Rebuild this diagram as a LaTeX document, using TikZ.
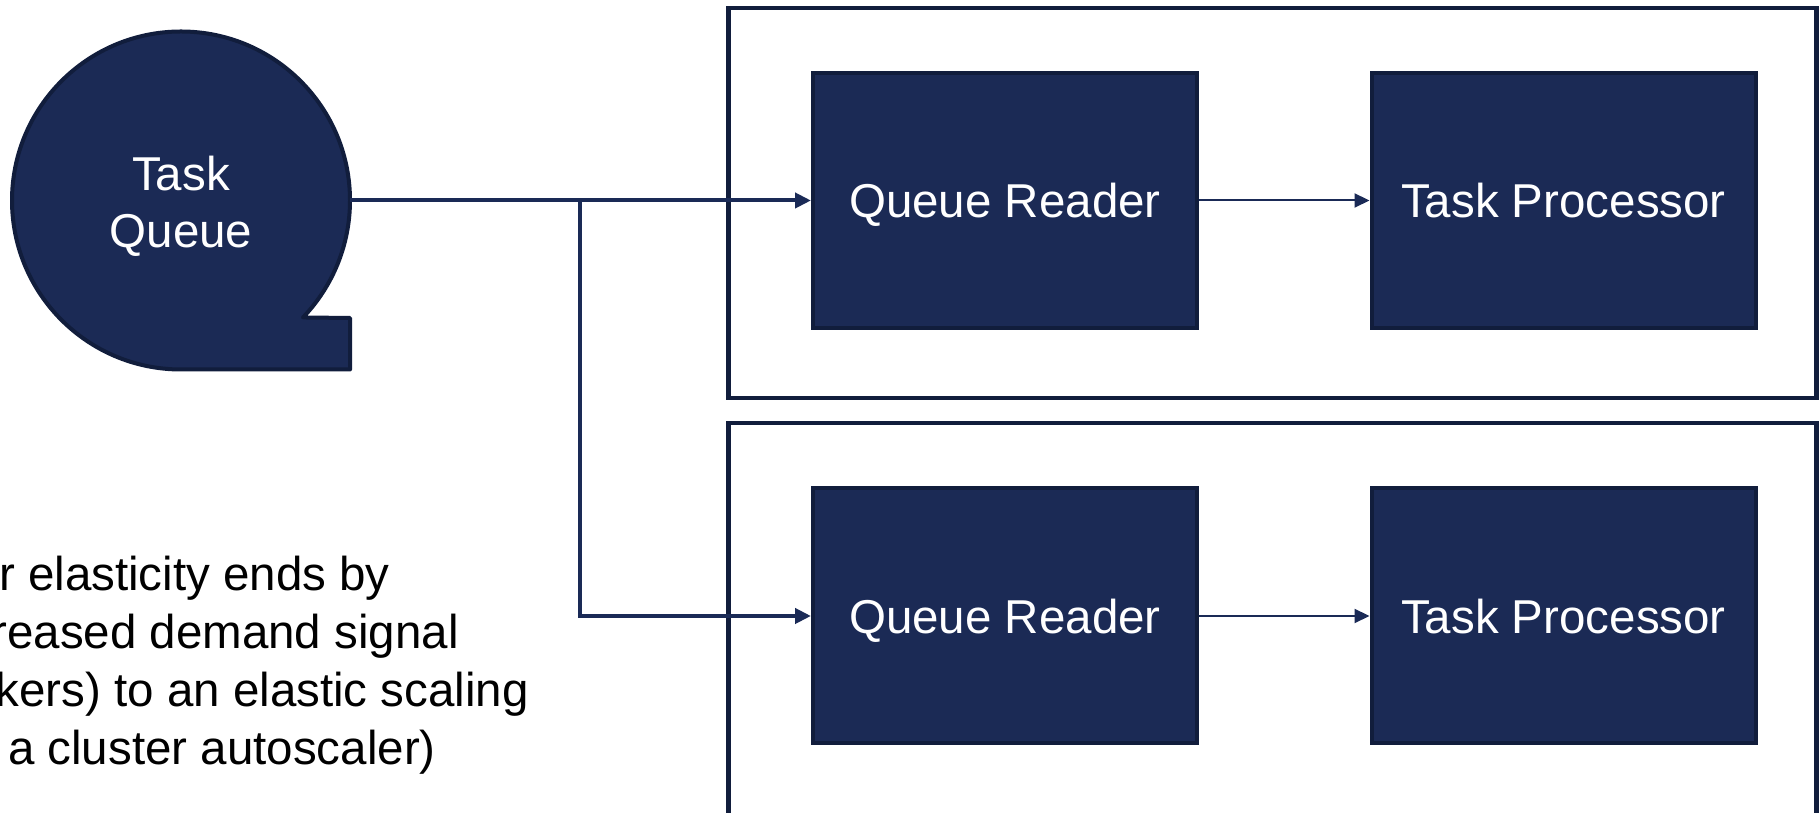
\documentclass[tikz,border=0pt]{standalone}
\usepackage{fontspec}
\setmainfont{Liberation Sans}
\usetikzlibrary{arrows.meta}
\definecolor{navy}{HTML}{1B2A55}
\definecolor{navyedge}{HTML}{111D3C}
\definecolor{linecol}{HTML}{1A2A56}
\begin{document}
\begin{tikzpicture}[x=1pt,y=1pt,
  box/.style={draw=navyedge, fill=navy, line width=4pt, minimum width=384pt, minimum height=255pt, inner sep=0pt, text=white, text height=34.5pt, text depth=0pt, font=\fontsize{47.5}{57}\selectfont},
  frame/.style={draw=navyedge, line width=4.5pt},
  conn/.style={draw=linecol, line width=4pt, -{Triangle[length=16pt,width=15pt]}},
  thinconn/.style={draw=linecol, line width=2pt, -{Triangle[length=15pt,width=14pt]}},
  note/.style={inner sep=0pt, anchor=base east, font=\fontsize{47.5}{57}\selectfont, text=black}]
\useasboundingbox (0,0) rectangle (1819,813);
\clip (0,0) rectangle (1819,813);
\fill[white] (0,0) rectangle (1819,813);
% outer frames
\draw[frame] (728.5,805) rectangle (1816.5,415);
\draw[frame] (728.5,390) rectangle (1816.5,-10);
% task queue shape
\draw[draw=navyedge, fill=navy, line width=4pt, line join=round]
  (181,443.5) arc[start angle=270, end angle=-43.8, radius=169pt]
  -- (350,495) -- (350,443.5) -- cycle;
\node[text=white, align=center, inner sep=0pt, font=\fontsize{47.5}{57}\selectfont] (tq) at (181,606.5) {Task\\Queue};
% boxes
\node[box] (qr1) at (1005,612.5) {Queue Reader};
\node[box] (tp1) at (1563.5,612.5) {Task Processor};
\node[box] (qr2) at (1005,197) {Queue Reader};
\node[box] (tp2) at (1563.5,197) {Task Processor};
% connectors
\coordinate (tqE) at (350,612.5);
\coordinate (j) at (580,612.5);
\draw[conn] (tqE) -- (qr1.west);
\draw[conn] (j) |- (qr2.west);
\draw[thinconn] (qr1.east) -- (tp1.west);
\draw[thinconn] (qr2.east) -- (tp2.west);
% note text (clipped at left)
\node[note] (n1) at (390,222) {r elasticity ends by};
\node[note] (n2) at (459,164) {reased demand signal};
\node[note] (n3) at (529,106) {kers) to an elastic scaling};
\node[note] (n4) at (436,48) {a cluster autoscaler)};
\end{tikzpicture}
\end{document}
